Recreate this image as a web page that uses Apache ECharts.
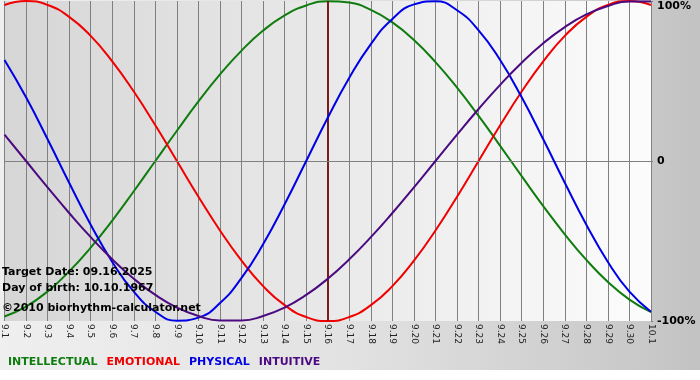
<!DOCTYPE html>
<html>
<head>
<meta charset="utf-8">
<script src="https://cdn.jsdelivr.net/npm/echarts@6/dist/echarts.min.js"></script>
<style>html,body{margin:0;padding:0;}#c{width:700px;height:380px;}</style>
</head>
<body>
<div id="c"></div>
<script>
const days = ['9.1','9.2','9.3','9.4','9.5','9.6','9.7','9.8','9.9','9.10','9.11','9.12','9.13','9.14','9.15','9.16','9.17','9.18','9.19','9.20','9.21','9.22','9.23','9.24','9.25','9.26','9.27','9.28','9.29','9.30','10.1'];
const intellectual = [-97.2,-91.0,-81.5,-69.0,-54.1,-37.2,-18.9,0,18.9,37.2,54.1,69.0,81.5,91.0,97.2,99.9,99.0,94.5,86.6,75.6,61.8,45.8,28.2,9.5,-9.5,-28.2,-45.8,-61.8,-75.6,-86.6,-94.5];
const emotional = [97.5,100,97.5,90.1,78.2,62.3,43.4,22.3,0,-22.3,-43.4,-62.3,-78.2,-90.1,-97.5,-100,-97.5,-90.1,-78.2,-62.3,-43.4,-22.3,0,22.3,43.4,62.3,78.2,90.1,97.5,100,97.5];
const physical = [63.1,39.8,13.6,-13.6,-39.8,-63.1,-81.7,-94.2,-99.8,-97.9,-88.8,-73.1,-52.0,-27.0,0,27.0,52.0,73.1,88.8,97.9,99.8,94.2,81.7,63.1,39.8,13.6,-13.6,-39.8,-63.1,-81.7,-94.2];
const intuitive = [16.5,0,-16.5,-32.5,-47.6,-61.4,-73.6,-83.7,-91.6,-96.9,-99.7,-99.7,-96.9,-91.6,-83.7,-73.6,-61.4,-47.6,-32.5,-16.5,0,16.5,32.5,47.6,61.4,73.6,83.7,91.6,96.9,99.7,99.7];
const seriesNames = ['INTELLECTUAL','EMOTIONAL','PHYSICAL','INTUITIVE'];
const colors = ['#0e7d0e','#f00000','#0000e6','#4b0a80'];
const targetDay = '9.16';
const infoLines = ['Target Date: 09.16.2025','Day of birth: 10.10.1967','©2010 biorhythm-calculator.net'];

const FONT = '"DejaVu Sans", Verdana, sans-serif';
const chart = echarts.init(document.getElementById('c'), null, {renderer:'canvas'});
const values = [intellectual, emotional, physical, intuitive];

const series = seriesNames.map((n,i)=>({
  name:n, type:'line', data:values[i], smooth:true, showSymbol:false, symbol:'none',
  clip:false,
  lineStyle:{color:colors[i], width:2}, itemStyle:{color:colors[i]},
  z: 3 + i
}));
series[0].markLine = {
  silent:true, symbol:'none', label:{show:false}, animation:false,
  data:[
    {xAxis:targetDay, lineStyle:{color:'#7a1c1c', width:2, type:'solid'}},
    {yAxis:0, lineStyle:{color:'#808080', width:1, type:'solid'}}
  ]
};

chart.setOption({
  animation:false,
  backgroundColor: new echarts.graphic.LinearGradient(0,0,1,0,[
    {offset:0,color:'#efefef'},{offset:0.5,color:'#e2e2e2'},{offset:0.93,color:'#c8c8c8'},{offset:1,color:'#c2c2c2'}
  ]),
  grid:{left:3, right:49, top:1, bottom:59, show:true, borderWidth:0,
    backgroundColor: new echarts.graphic.LinearGradient(0,0,1,0,[
      {offset:0,color:'#d6d6d6'},{offset:1,color:'#fcfcfc'}
    ])},
  legend:{
    left:-2, top:352, itemWidth:0, itemHeight:0, itemGap:4, icon:'rect', selectedMode:false,
    textStyle:{fontFamily:FONT, fontSize:11, fontWeight:'bold'},
    data: seriesNames.map((n,i)=>({name:n, textStyle:{color:colors[i]}}))
  },
  xAxis:{
    type:'category', data:days, boundaryGap:false,
    axisLine:{show:true, lineStyle:{color:'#808080'}},
    axisTick:{show:true, length:3, lineStyle:{color:'#808080'}},
    axisLabel:{interval:0, rotate:-90, fontSize:9, color:'#222', margin:3, fontFamily:FONT},
    splitLine:{show:true, interval:0, lineStyle:{color:'#808080', width:1}}
  },
  yAxis:{
    type:'value', position:'right', min:-100, max:100, interval:100,
    axisLine:{show:false},
    axisTick:{show:true, length:2, lineStyle:{color:'#808080'}},
    splitLine:{show:false},
    axisLabel:{margin:6, color:'#000', fontSize:11, fontWeight:'bold', fontFamily:FONT,
      formatter:v=> v===0 ? '0' : (v===100 ? '{t|'+v+'%}' : v+'%'),
      rich:{t:{padding:[11,0,0,0], fontSize:11, fontWeight:'bold', color:'#000', fontFamily:FONT}}
    }
  },
  graphic:[
    {type:'rect', left:0, top:370, shape:{width:700, height:10}, style:{fill:'#ffffff'}, z:0, silent:true},
    ...infoLines.map((t,i)=>({type:'text', left:2, top:[267,283,303][i], z:100, silent:true,
      style:{text:t, fill:'#000', font:'bold 11px '+FONT}}))
  ],
  series: series
});
</script>
</body>
</html>
